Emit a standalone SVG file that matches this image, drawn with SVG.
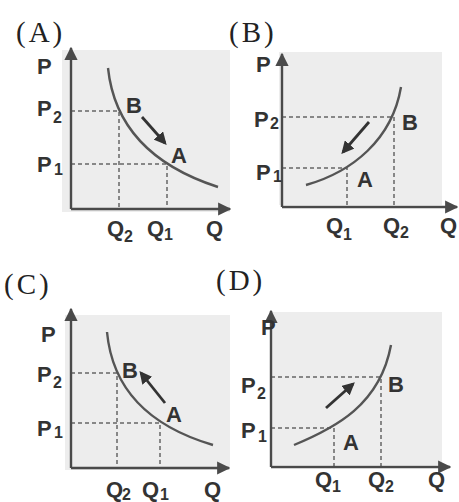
<svg xmlns="http://www.w3.org/2000/svg" width="459" height="502" viewBox="0 0 459 502">
<style>
.bg{fill:#ededed}
.ax{stroke:#4a4a4a;stroke-width:2.4;fill:none}
.cv{stroke:#555;stroke-width:2.4;fill:none}
.ds{stroke:#666;stroke-width:1.5;stroke-dasharray:4 3;fill:none}
.mv{stroke:#333;stroke-width:2.8;fill:none}
.t{font-family:"Liberation Serif",serif;font-size:29px;fill:#222;letter-spacing:3px}
.l{font-family:"Liberation Sans",Arial,sans-serif;font-weight:bold;font-size:22px;fill:#333}
.s{font-family:"Liberation Sans",Arial,sans-serif;font-weight:bold;font-size:16px;fill:#333}
</style>
<defs>
<marker id="ah" viewBox="0 0 10 10" refX="9" refY="5" markerWidth="5.5" markerHeight="5.5" orient="auto" markerUnits="strokeWidth">
<path d="M0,0 L10,5 L0,10 Z" fill="#4a4a4a"/>
</marker>
<marker id="mh" viewBox="0 0 10 10" refX="8" refY="5" markerWidth="4.5" markerHeight="4.5" orient="auto" markerUnits="strokeWidth">
<path d="M0,0 L10,5 L0,10 Z" fill="#333"/>
</marker>
</defs>
<rect width="459" height="502" fill="#fff"/>

<g id="panelA">
<text class="t" x="16" y="42">(A)</text>
<rect class="bg" x="62" y="50" width="168" height="162"/>
<path class="ds" d="M71,111 H119 V209 M71,164 H167 V209"/>
<path class="cv" d="M108,68 C114,125 150,165 218,187"/>
<line class="ax" x1="71" y1="209" x2="71" y2="48" marker-end="url(#ah)"/>
<line class="ax" x1="71" y1="209" x2="230" y2="209" marker-end="url(#ah)"/>
<line class="mv" x1="142" y1="117" x2="165" y2="143" marker-end="url(#mh)"/>
<text class="l" x="37" y="74">P</text>
<text class="l" x="37" y="116">P</text><text class="s" x="53" y="123">2</text>
<text class="l" x="37" y="172">P</text><text class="s" x="54" y="175">1</text>
<text class="l" x="126" y="113">B</text>
<text class="l" x="171" y="163">A</text>
<text class="l" x="107" y="236">Q</text><text class="s" x="124" y="242">2</text>
<text class="l" x="147" y="236">Q</text><text class="s" x="164" y="240">1</text>
<text class="l" x="206" y="236">Q</text>
</g>

<g id="panelB">
<text class="t" x="229" y="42">(B)</text>
<rect class="bg" x="279" y="52" width="163" height="153"/>
<path class="ds" d="M282,117 H394 V207 M282,168 H347 V207"/>
<path class="cv" d="M306,185 C352,172 392,140 401,87"/>
<line class="ax" x1="282" y1="207" x2="282" y2="54" marker-end="url(#ah)"/>
<line class="ax" x1="282" y1="207" x2="457" y2="207" marker-end="url(#ah)"/>
<line class="mv" x1="369" y1="122" x2="343" y2="152" marker-end="url(#mh)"/>
<text class="l" x="256" y="72">P</text>
<text class="l" x="254" y="127">P</text><text class="s" x="270" y="129">2</text>
<text class="l" x="256" y="180">P</text><text class="s" x="273" y="182">1</text>
<text class="l" x="402" y="130">B</text>
<text class="l" x="357" y="187">A</text>
<text class="l" x="326" y="233">Q</text><text class="s" x="343" y="240">1</text>
<text class="l" x="383" y="233">Q</text><text class="s" x="400" y="238">2</text>
<text class="l" x="440" y="233">Q</text>
</g>

<g id="panelC">
<text class="t" x="4" y="294">(C)</text>
<rect class="bg" x="65" y="315" width="165" height="155"/>
<path class="ds" d="M71,373 H117 V468 M71,423 H160 V468"/>
<path class="cv" d="M107,332 C112,385 145,425 213,445"/>
<line class="ax" x1="71" y1="468" x2="71" y2="309" marker-end="url(#ah)"/>
<line class="ax" x1="71" y1="468" x2="229" y2="468" marker-end="url(#ah)"/>
<line class="mv" x1="165" y1="403" x2="141" y2="373" marker-end="url(#mh)"/>
<text class="l" x="41" y="342">P</text>
<text class="l" x="37" y="382">P</text><text class="s" x="53" y="388">2</text>
<text class="l" x="37" y="436">P</text><text class="s" x="54" y="438">1</text>
<text class="l" x="122" y="378">B</text>
<text class="l" x="166" y="422">A</text>
<text class="l" x="106" y="497">Q</text><text class="s" x="122" y="500">2</text>
<text class="l" x="142" y="497">Q</text><text class="s" x="160" y="500">1</text>
<text class="l" x="204" y="497">Q</text>
</g>

<g id="panelD">
<text class="t" x="216" y="290">(D)</text>
<rect class="bg" x="272" y="312" width="170" height="153"/>
<path class="ds" d="M271,377 H381 V467 M271,428 H334 V467"/>
<path class="cv" d="M294,445 C335,428 380,405 391,345"/>
<line class="ax" x1="271" y1="467" x2="271" y2="311" marker-end="url(#ah)"/>
<line class="ax" x1="271" y1="467" x2="450" y2="467" marker-end="url(#ah)"/>
<line class="mv" x1="326" y1="408" x2="353" y2="384" marker-end="url(#mh)"/>
<text class="l" x="261" y="335">P</text>
<text class="l" x="241" y="393">P</text><text class="s" x="257" y="399">2</text>
<text class="l" x="241" y="438">P</text><text class="s" x="258" y="442">1</text>
<text class="l" x="388" y="392">B</text>
<text class="l" x="343" y="450">A</text>
<text class="l" x="315" y="487">Q</text><text class="s" x="332" y="492">1</text>
<text class="l" x="368" y="487">Q</text><text class="s" x="385" y="492">2</text>
<text class="l" x="428" y="487">Q</text>
</g>
</svg>
